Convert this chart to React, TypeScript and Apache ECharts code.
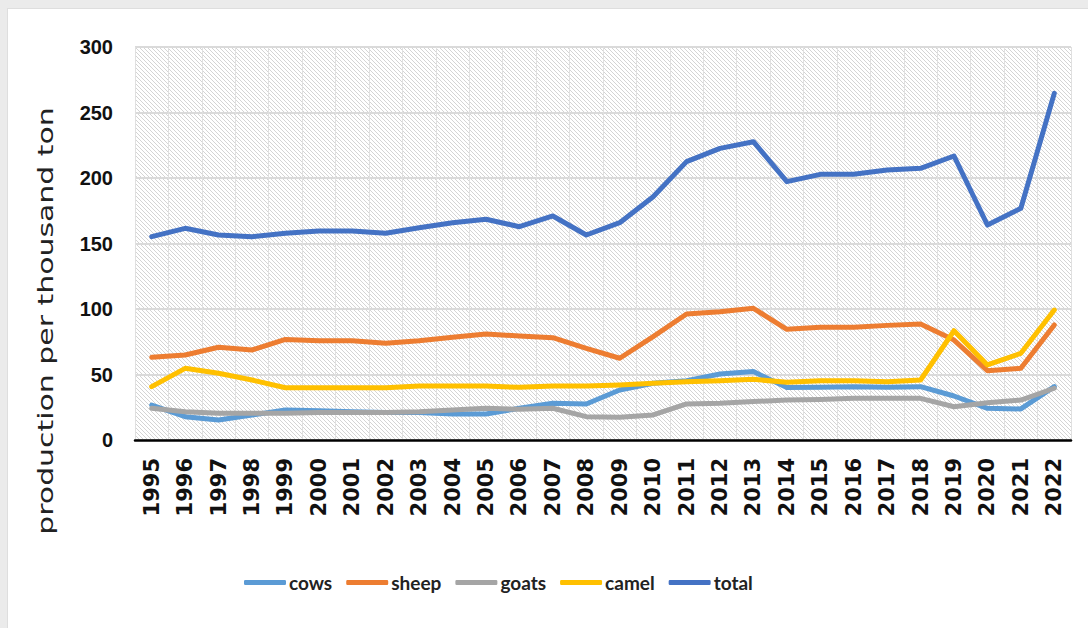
import React, { useEffect, useRef } from "react";
import * as echarts from "echarts";

// Livestock production, thousand tons per year
const years = [
  "1995", "1996", "1997", "1998", "1999", "2000", "2001", "2002", "2003", "2004",
  "2005", "2006", "2007", "2008", "2009", "2010", "2011", "2012", "2013", "2014",
  "2015", "2016", "2017", "2018", "2019", "2020", "2021", "2022",
];

const cows = [
  26.7, 17.8, 15.3, 19.1, 22.9, 22.4, 21.6, 20.9, 20.9, 19.8,
  19.8, 24.2, 28, 27.5, 38.2, 43.3, 45.3, 50.4, 52.2, 40,
  40.2, 40.7, 40.2, 40.7, 33.6, 24.2, 23.7, 40.7,
];
const sheep = [
  63.1, 64.9, 70.8, 68.7, 76.8, 75.8, 75.8, 73.8, 75.8, 78.4,
  80.9, 79.4, 78.1, 70, 62.4, 78.9, 96.2, 97.9, 100.5, 84.5,
  86, 86, 87.5, 88.5, 76.3, 52.9, 54.7, 87.8,
];
const goats = [
  24.2, 21.6, 20.4, 20.4, 20.4, 20.9, 20.9, 20.9, 21.6, 22.9,
  24.2, 23.4, 24.2, 17.8, 17.3, 19.1, 27.5, 28, 29.3, 30.5,
  31, 31.8, 31.8, 31.8, 25.4, 28.5, 30.5, 39.5,
];
const camel = [
  40.7, 54.7, 50.9, 45.8, 39.9, 39.9, 39.9, 39.9, 41.2, 41.2,
  41.2, 40.2, 41.2, 41.2, 42, 43.3, 44.5, 45.3, 46.3, 44,
  45.3, 45.3, 44.5, 45.8, 83.4, 57.3, 66.2, 99.2,
];
const total = [
  155.2, 161.6, 156.5, 155.2, 157.8, 159.5, 159.5, 157.8, 162, 165.9,
  168.5, 162.8, 171, 156.5, 165.9, 185.7, 212.5, 222.6, 227.7, 197.2,
  202.8, 202.8, 206.1, 207.4, 216.8, 164.1, 176.9, 264.6,
];

const seriesNames = ["cows", "sheep", "goats", "camel", "total"];
const seriesColors = ["#5B9BD5", "#ED7D31", "#A5A5A5", "#FFC000", "#4472C4"];
const seriesData = [cows, sheep, goats, camel, total];

const yAxisTitle = "production per thousand ton";

// Diagonal hatch tile used as the plot-area fill
function makeHatch(): string {
  const size = 4;
  const c = document.createElement("canvas");
  c.width = size;
  c.height = size;
  const ctx = c.getContext("2d");
  if (ctx) {
    ctx.fillStyle = "#ffffff";
    ctx.fillRect(0, 0, size, size);
    ctx.strokeStyle = "#d4d4d4";
    ctx.lineWidth = 1;
    for (const off of [-size, 0, size]) {
      ctx.beginPath();
      ctx.moveTo(off, 0);
      ctx.lineTo(off + size, size);
      ctx.stroke();
    }
  }
  return c.toDataURL();
}

export default function App() {
  const ref = useRef<HTMLDivElement>(null);

  useEffect(() => {
    if (!ref.current) return;
    const chart = echarts.init(ref.current, null, { renderer: "svg" });
    const hatch = makeHatch();

    chart.setOption({
      animation: false,
      textStyle: { fontFamily: "'Liberation Sans', sans-serif" },
      grid: {
        show: true,
        left: 135,
        top: 47,
        width: 936,
        height: 393,
        borderWidth: 0,
        backgroundColor: { image: hatch, repeat: "repeat", imageWidth: 4, imageHeight: 4 },
      },
      legend: {
        left: 239,
        top: 568,
        itemWidth: 42,
        itemHeight: 5,
        itemGap: 14,
        icon: "roundRect",
        data: seriesNames,
        textStyle: {
          fontFamily: "Lato, sans-serif",
          fontWeight: "bold",
          fontSize: 19,
          color: "#222",
          padding: [0, 0, 0, -2],
        },
      },
      xAxis: {
        type: "category",
        data: years,
        boundaryGap: true,
        axisLine: { show: true, lineStyle: { color: "#000", width: 2.5 } },
        axisTick: { show: false },
        splitLine: { show: true, interval: 0, lineStyle: { color: "#e0e0e0", width: 1 } },
        axisLabel: {
          interval: 0,
          rotate: 90,
          margin: 18,
          fontFamily: "'DejaVu Sans', sans-serif",
          fontWeight: "bold",
          fontSize: 21,
          color: "#111",
        },
      },
      yAxis: {
        type: "value",
        min: 0,
        max: 300,
        interval: 50,
        axisLine: { show: false },
        axisTick: { show: false },
        splitLine: { show: true, lineStyle: { color: "#dadada", width: 2 } },
        axisLabel: {
          margin: 22,
          fontFamily: "'Liberation Sans', sans-serif",
          fontWeight: "bold",
          fontSize: 20,
          color: "#111",
        },
      },
      graphic: [
        {
          type: "text",
          x: 45,
          y: 321,
          rotation: Math.PI / 2,
          scaleX: 1.36,
          style: {
            text: yAxisTitle,
            fontFamily: "'DejaVu Sans', sans-serif",
            fontSize: 22,
            fill: "#222",
            align: "center",
            verticalAlign: "middle",
          },
        },
      ],
      series: seriesNames.map((name, i) => ({
        name,
        type: "line",
        data: seriesData[i],
        showSymbol: false,
        symbol: "none",
        color: seriesColors[i],
        lineStyle: { width: 5, color: seriesColors[i], cap: "round", join: "round" },
      })),
    });

    return () => chart.dispose();
  }, []);

  return (
    <div style={{ position: "fixed", left: 0, top: 0, width: 1088, height: 628, background: "#ebebeb" }}>
      <div
        style={{
          position: "absolute",
          left: 7,
          top: 8,
          width: 1081,
          height: 620,
          background: "#ffffff",
          borderLeft: "1px solid #dedede",
          borderTop: "1px solid #dedede",
          boxSizing: "border-box",
        }}
      />
      <div ref={ref} style={{ position: "absolute", left: 0, top: 0, width: 1088, height: 628 }} />
    </div>
  );
}
